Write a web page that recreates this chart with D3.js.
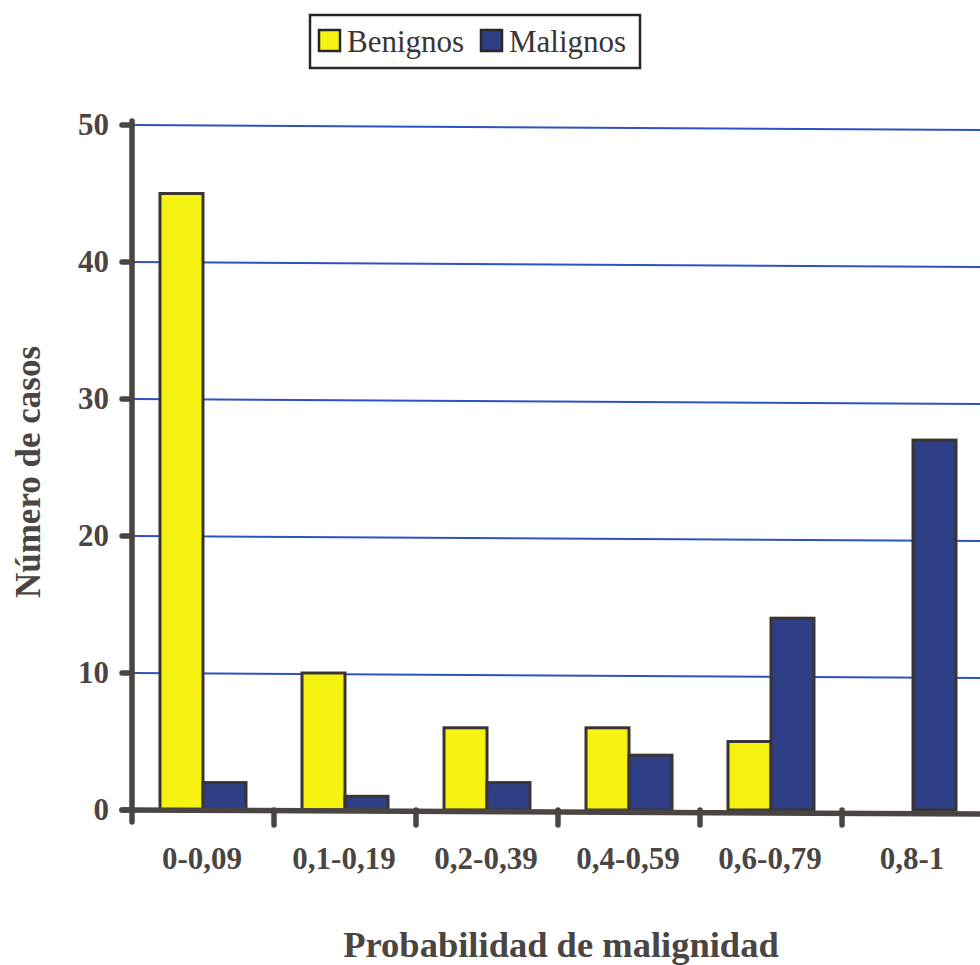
<!DOCTYPE html>
<html><head><meta charset="utf-8">
<script src="https://cdn.jsdelivr.net/npm/d3@7"></script>
<style>body{margin:0;background:#fff}svg{display:block}</style>
</head><body>
<script>
const categories = ["0-0,09","0,1-0,19","0,2-0,39","0,4-0,59","0,6-0,79","0,8-1"];
const benignos = [45,10,6,6,5,0];
const malignos = [2,1,2,4,14,27];
const seriesNames = ["Benignos","Malignos"];
const yTicks = [0,10,20,30,40,50];

const W=980,H=965;
const svg=d3.select("body").append("svg").attr("width",W).attr("height",H);
const font="'Liberation Serif','Times New Roman',serif";
const axisCol="#4a4543", yellow="#f6f312", blue="#2f3f86", grid="#2d52c2";

const x=d3.scaleBand().domain(categories).range([132,984]).paddingInner(0).paddingOuter(0);
const y=d3.scaleLinear().domain([0,50]).range([810,125]);
const sub=d3.scaleBand().domain(seriesNames).range([0,86]);
const groupOff=(x.bandwidth()-86)/2;

// gridlines
svg.append("g").selectAll("line").data(yTicks.filter(d=>d>0)).join("line")
  .attr("x1",134).attr("x2",W).attr("y1",d=>y(d)).attr("y2",d=>y(d)+5)
  .attr("stroke",grid).attr("stroke-width",2);

// bars
const data=categories.map((c,i)=>({c,vals:[{s:"Benignos",v:benignos[i]},{s:"Malignos",v:malignos[i]}]}));
const g=svg.append("g");
data.forEach(d=>{
  d.vals.forEach(b=>{
    if(b.v<=0) return;
    g.append("rect")
      .attr("x",x(d.c)+groupOff+sub(b.s))
      .attr("y",y(b.v))
      .attr("width",sub.bandwidth())
      .attr("height",y(0)-y(b.v))
      .attr("fill",b.s==="Benignos"?yellow:blue)
      .attr("stroke","#3a3533").attr("stroke-width",3);
  });
});

// axes
const ax=svg.append("g").attr("stroke",axisCol).attr("stroke-linecap","round");
ax.append("line").attr("x1",132).attr("x2",132).attr("y1",y(50)-4).attr("y2",822).attr("stroke-width",5.5);
ax.append("line").attr("x1",122).attr("x2",W+5).attr("y1",y(0)).attr("y2",y(0)+4).attr("stroke-width",5.5);
ax.selectAll(".yt").data(yTicks).join("line").attr("class","yt")
  .attr("x1",122).attr("x2",132).attr("y1",d=>y(d)).attr("y2",d=>y(d)).attr("stroke-width",5.5);
const xTickPos=categories.map(c=>x(c)).slice(1);
ax.selectAll(".xt").data(xTickPos).join("line").attr("class","xt")
  .attr("x1",d=>d).attr("x2",d=>d).attr("y1",y(0)).attr("y2",825).attr("stroke-width",5.5);

// y tick labels
svg.append("g").selectAll("text").data(yTicks).join("text")
  .attr("x",109).attr("y",d=>y(d)+10).attr("text-anchor","end")
  .attr("font-family",font).attr("font-weight","bold").attr("font-size",31).attr("fill",axisCol)
  .text(d=>d);

// x tick labels
svg.append("g").selectAll("text").data(categories).join("text")
  .attr("x",d=>x(d)+x.bandwidth()/2-1).attr("y",869).attr("text-anchor","middle")
  .attr("font-family",font).attr("font-weight","bold").attr("font-size",31).attr("fill",axisCol)
  .text(d=>d);

// axis titles
svg.append("text").attr("x",561).attr("y",957).attr("text-anchor","middle")
  .attr("font-family",font).attr("font-weight","bold").attr("font-size",36.5).attr("fill",axisCol)
  .text("Probabilidad de malignidad");
svg.append("text").attr("transform","translate(40,472) rotate(-90)").attr("text-anchor","middle")
  .attr("font-family",font).attr("font-weight","bold").attr("font-size",35).attr("fill",axisCol)
  .text("Número de casos");

// legend
const lg=svg.append("g");
lg.append("rect").attr("x",310).attr("y",15).attr("width",330).attr("height",53)
  .attr("fill","#fff").attr("stroke","#2b2726").attr("stroke-width",2.5);
const lx=[319,481];
seriesNames.forEach((s,i)=>{
  lg.append("rect").attr("x",lx[i]).attr("y",30).attr("width",21).attr("height",21)
    .attr("fill",i===0?yellow:blue).attr("stroke","#2b2726").attr("stroke-width",2.5);
  lg.append("text").attr("x",lx[i]+28).attr("y",52)
    .attr("font-family",font).attr("font-size",31).attr("fill","#3a3533").text(s);
});
</script>
</body></html>
